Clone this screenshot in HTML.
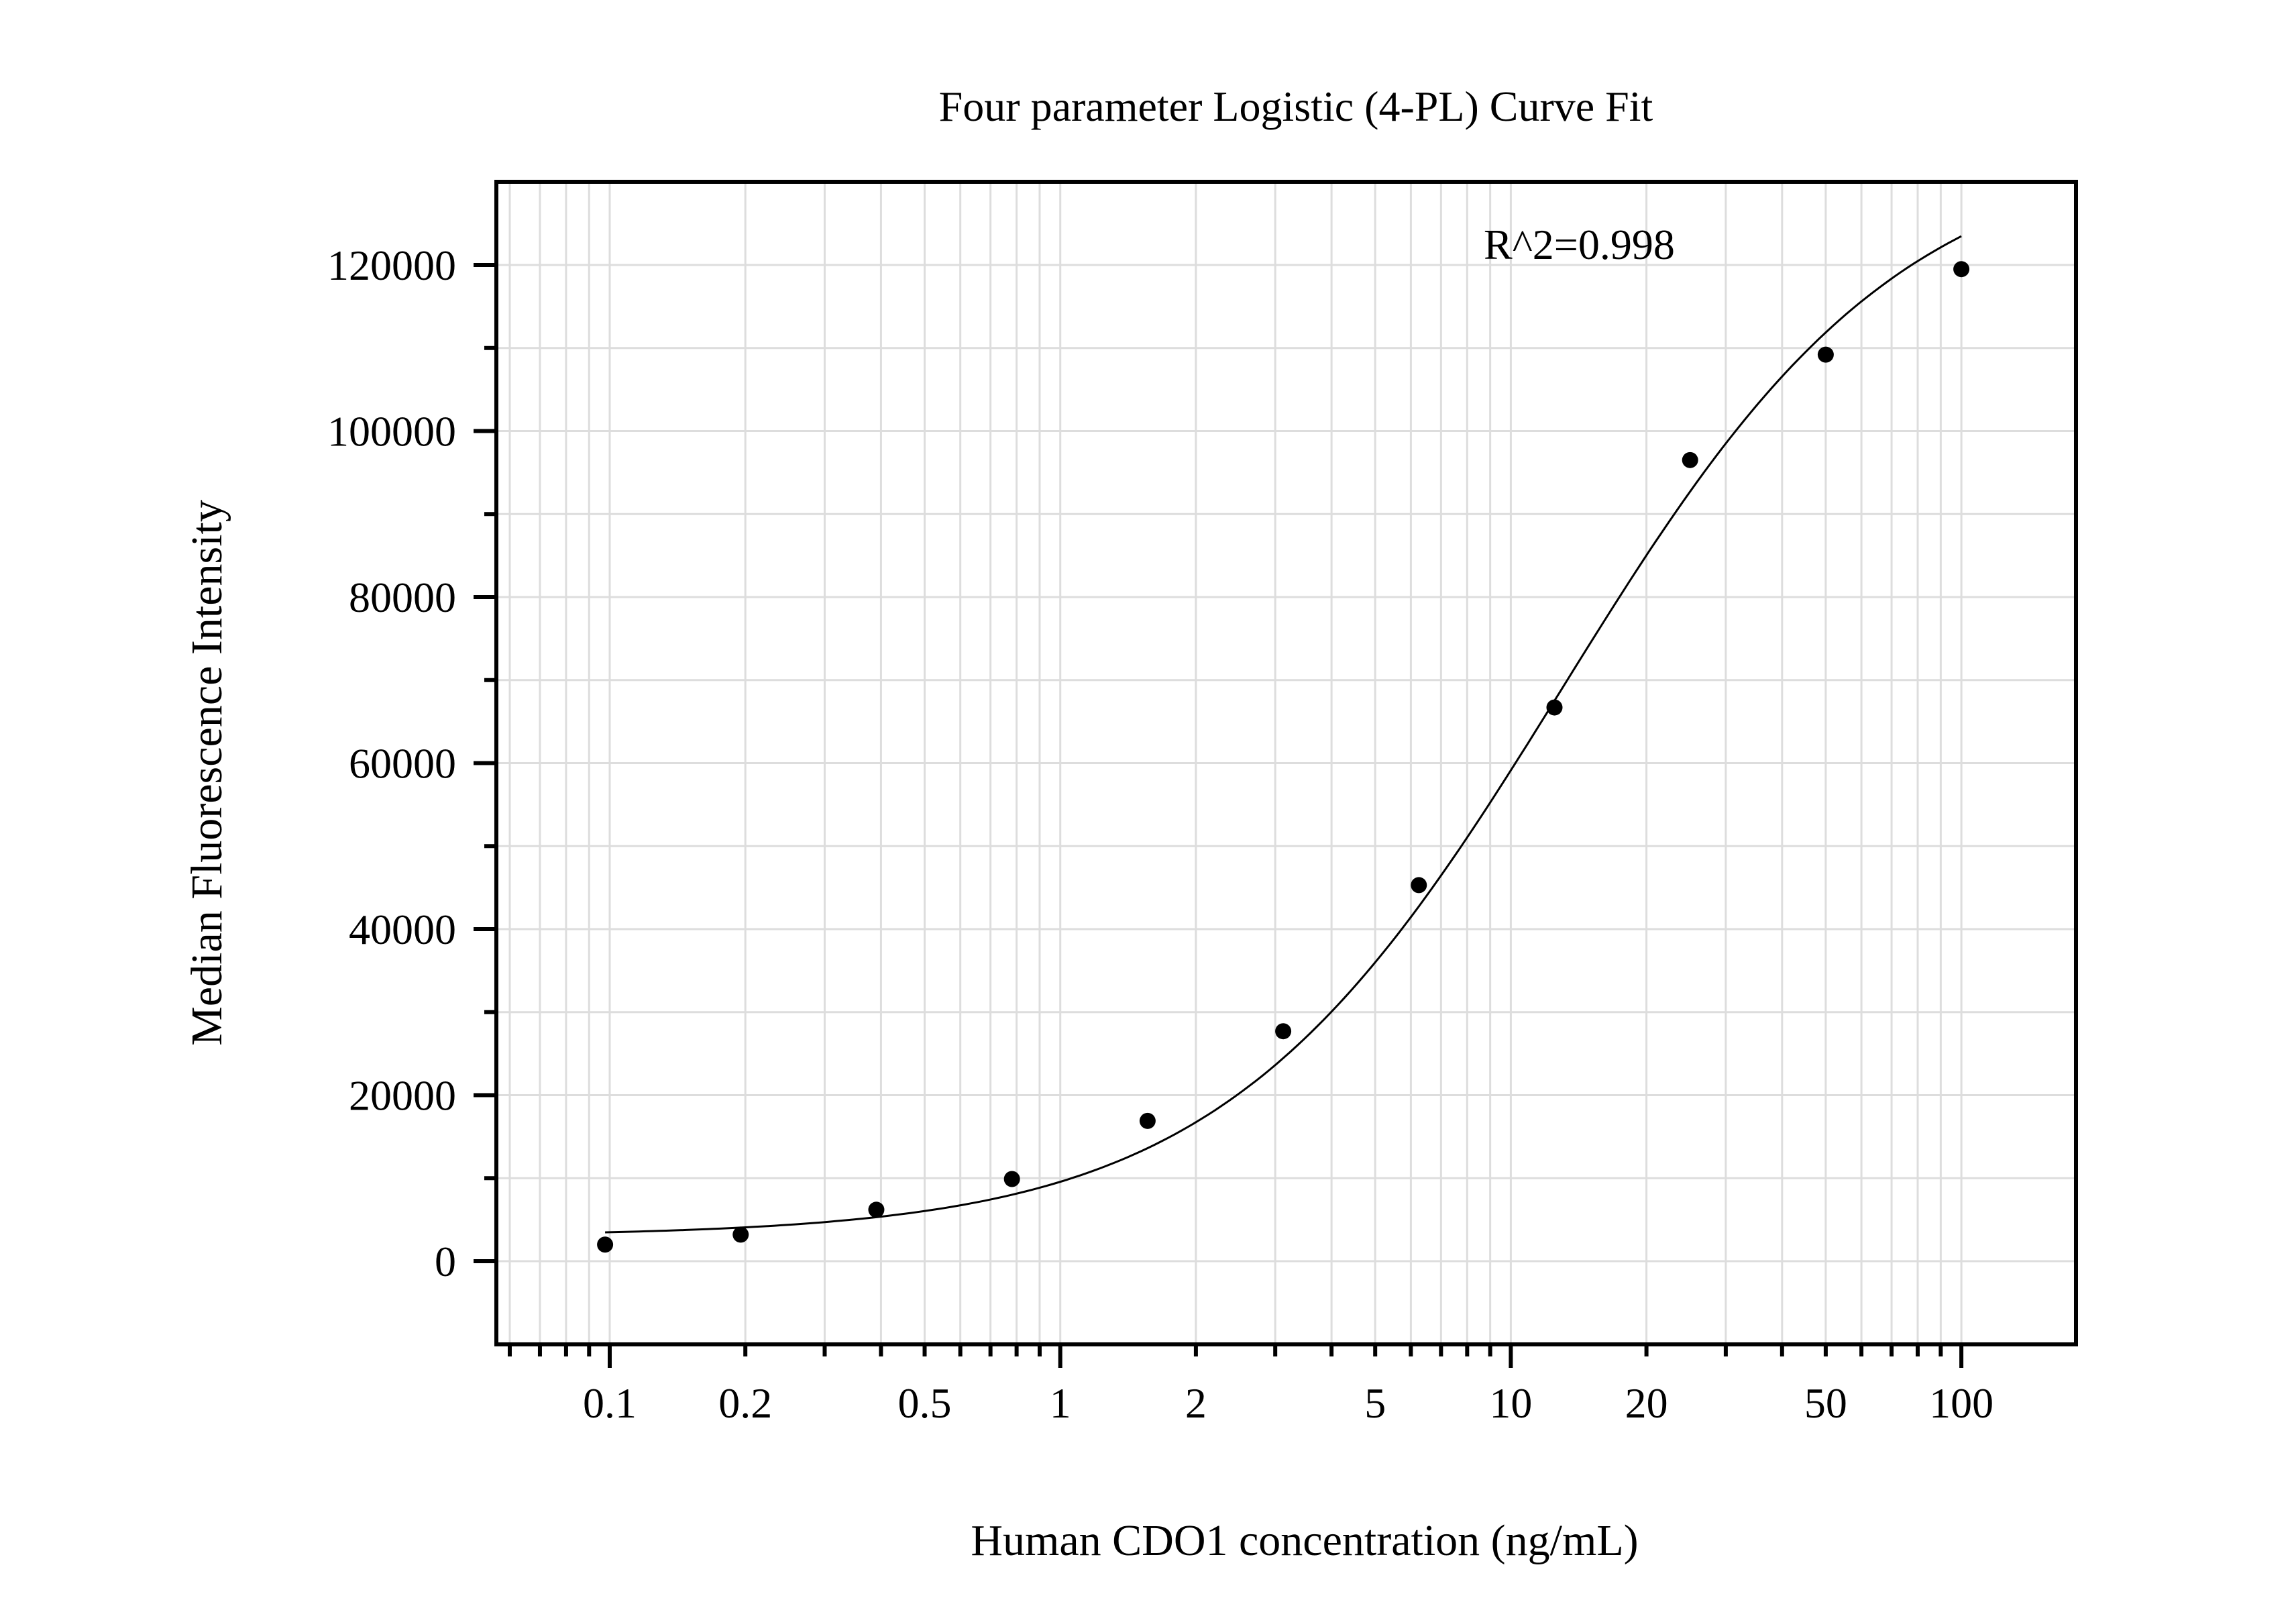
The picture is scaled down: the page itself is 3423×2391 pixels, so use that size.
<!DOCTYPE html>
<html><head><meta charset="utf-8"><style>
html,body{margin:0;padding:0;background:#fff;}
svg{display:block;font-family:"Liberation Serif",serif;}
</style></head><body>
<svg id="chart" width="3423" height="2391" viewBox="0 0 3423 2391" xmlns="http://www.w3.org/2000/svg">
<rect x="0" y="0" width="3423" height="2391" fill="#fff"/>
<g id="grid"></g>
<g id="axes"></g>
<g id="curve"></g>
<g id="points"></g>
<text x="1932" y="180" font-size="64" text-anchor="middle">Four parameter Logistic (4-PL) Curve Fit</text>
<text x="2212" y="386" font-size="64">R^2=0.998</text>
<text x="1945" y="2318" font-size="66" text-anchor="middle">Human CDO1 concentration (ng/mL)</text>
<text x="0" y="0" font-size="66" text-anchor="middle" transform="translate(330,1152) rotate(-90)">Median Fluorescence Intensity</text>
</svg>
<script>
const concentrations = [0.09766, 0.1953, 0.3906, 0.78125, 1.5625, 3.125, 6.25, 12.5, 25, 50, 100];
const intensities = [2000, 3200, 6200, 9900, 16900, 27700, 45300, 66700, 96500, 109200, 119500];
const fitParams = [3000, 1.15, 13, 135000]; // A (bottom), B (slope), C (EC50), D (top)
const xTickValues = [0.1, 0.2, 0.5, 1, 2, 5, 10, 20, 50, 100];
const xTickLabels = ["0.1", "0.2", "0.5", "1", "2", "5", "10", "20", "50", "100"];
const yTickValues = [0, 20000, 40000, 60000, 80000, 100000, 120000];
const yTickLabels = ["0", "20000", "40000", "60000", "80000", "100000", "120000"];

const NS = "http://www.w3.org/2000/svg";
const L = 740, R = 3095, T = 271, B = 2004;
const X0 = 909, DEC = 671.7;
const Y0 = 1880, PER = 247.5 / 20000;
function xs(v){ return X0 + Math.log10(v / 0.1) * DEC; }
function ys(v){ return Y0 - v * PER; }
function mk(tag, attrs, parent){ const e = document.createElementNS(NS, tag); for (const k in attrs) e.setAttribute(k, attrs[k]); parent.appendChild(e); return e; }

const grid = document.getElementById('grid');
const axes = document.getElementById('axes');
// vertical grid (log minor)
for (let d = -2; d <= 2; d++) {
  for (let m = 1; m <= 9; m++) {
    const v = m * Math.pow(10, d);
    const x = xs(v);
    if (x <= L + 2 || x >= R - 2) continue;
    const g = mk('line', {x1:x, y1:T, x2:x, y2:B, stroke:'#dddddd', 'stroke-width':3}, grid);
    
    
    const t = mk('line', {x1:x, y1:B, x2:x, y2:B + (m === 1 ? 35 : 18), stroke:'#000', 'stroke-width':6}, axes);
    
    
  }
}
// horizontal grid
for (let v = -10000; v <= 130000; v += 10000) {
  const y = ys(v);
  if (y <= T + 2 || y >= B - 2) continue;
  const g = mk('line', {x1:L, y1:y, x2:R, y2:y, stroke:'#dddddd', 'stroke-width':3}, grid);
  
  
  const major = (v % 20000 === 0);
  const t = mk('line', {x1:L - (major ? 34 : 18), y1:y, x2:L, y2:y, stroke:'#000', 'stroke-width':6}, axes);
  
  
}
// frame
const frame = mk('rect', {x:L, y:T, width:R - L, height:B - T, fill:'none', stroke:'#000', 'stroke-width':6}, axes);


// tick labels
xTickValues.forEach((v, i) => {
  const t = mk('text', {x:xs(v), y:2113, 'font-size':64, 'text-anchor':'middle'}, axes);
  t.textContent = xTickLabels[i];
  
  
});
yTickValues.forEach((v, i) => {
  const t = mk('text', {x:680, y:ys(v) + 22, 'font-size':64, 'text-anchor':'end'}, axes);
  t.textContent = yTickLabels[i];
  
  
});
// fit curve
const [A, Bs, C, D] = fitParams;
function fit(x){ return D + (A - D) / (1 + Math.pow(x / C, Bs)); }
const lo = Math.log10(concentrations[0]), hi = Math.log10(concentrations[concentrations.length - 1]);
let dstr = '';
for (let i = 0; i <= 200; i++) {
  const xv = Math.pow(10, lo + (hi - lo) * i / 200);
  dstr += (i ? 'L' : 'M') + xs(xv).toFixed(1) + ',' + ys(fit(xv)).toFixed(1);
}
const path = mk('path', {d:dstr, fill:'none', stroke:'#000', 'stroke-width':3}, document.getElementById('curve'));


// points
const pts = document.getElementById('points');
concentrations.forEach((c, i) => {
  const p = mk('circle', {cx:xs(c), cy:ys(intensities[i]), r:12, fill:'#000'}, pts);
  
  
});
</script>
</body></html>
